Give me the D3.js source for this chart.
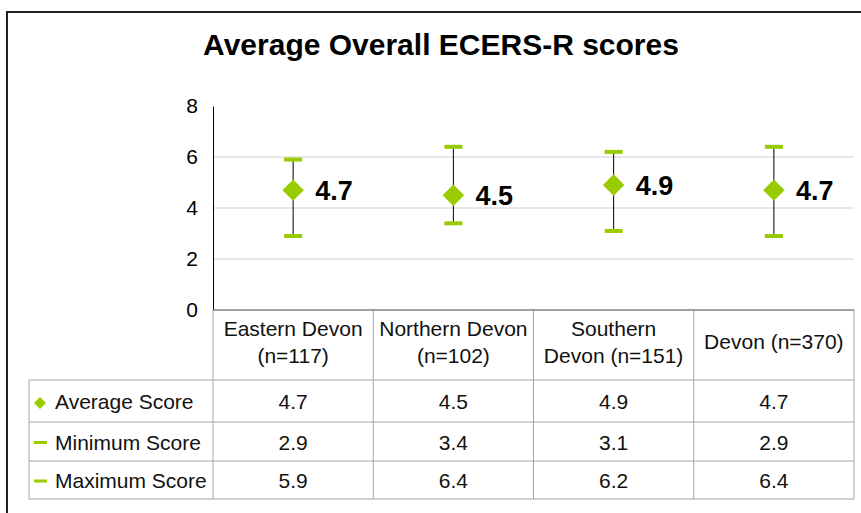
<!DOCTYPE html>
<html>
<head>
<meta charset="utf-8">
<script src="https://cdn.jsdelivr.net/npm/d3@7"></script>
<style>
  body { margin: 0; background: #fff; }
  text { font-family: "Liberation Sans", Arial, sans-serif; }
</style>
</head>
<body>
<div id="chart-area"></div>
<script>
// data
const categories = ["Eastern Devon (n=117)", "Northern Devon (n=102)", "Southern Devon (n=151)", "Devon (n=370)"]
const headerLines = [["Eastern Devon", "(n=117)"], ["Northern Devon", "(n=102)"], ["Southern", "Devon (n=151)"], ["Devon (n=370)"]]
const averageScore = [4.7, 4.5, 4.9, 4.7]
const minimumScore = [2.9, 3.4, 3.1, 2.9]
const maximumScore = [5.9, 6.4, 6.2, 6.4]
const yTicks = [0, 2, 4, 6, 8]
const rowNames = ["Average Score", "Minimum Score", "Maximum Score"]

const GREEN = "#99cc00"
const PLOT = { LEFT: 213, RIGHT: 854, TOP: 106, BOTTOM: 310 }
const ROWS = [310, 380, 422, 461, 499]
const TABLE_LEFT = 29

const svg = d3.select("#chart-area").append("svg")
    .attr("width", 861)
    .attr("height", 513)

// outer frame
svg.append("rect")
    .attr("x", 7).attr("y", 12)
    .attr("width", 900).attr("height", 600)
    .attr("fill", "none")
    .attr("stroke", "#222")
    .attr("stroke-width", 2)

svg.append("text")
    .attr("x", 441).attr("y", 55)
    .attr("text-anchor", "middle")
    .attr("font-size", "30px")
    .attr("font-weight", "bold")
    .text("Average Overall ECERS-R scores")

const x = d3.scaleBand()
    .domain(categories)
    .range([PLOT.LEFT, PLOT.RIGHT])

const y = d3.scaleLinear()
    .domain([0, 8])
    .range([PLOT.BOTTOM, PLOT.TOP])

// gridlines
svg.append("g")
    .selectAll("line")
    .data(yTicks.filter(d => d > 0 && d < 8))
    .enter().append("line")
        .attr("x1", PLOT.LEFT).attr("x2", PLOT.RIGHT)
        .attr("y1", d => y(d)).attr("y2", d => y(d))
        .attr("stroke", "#d0d0d0")

// y axis
const yAxisCall = d3.axisLeft(y)
    .tickValues(yTicks)
    .tickSize(0)
    .tickPadding(15)
const yAxis = svg.append("g")
    .attr("class", "y axis")
    .attr("transform", `translate(${PLOT.LEFT}, 0)`)
    .call(yAxisCall)
yAxis.select(".domain").attr("stroke", "#000")
yAxis.selectAll("text")
    .attr("font-size", "21px")
    .attr("font-family", "Liberation Sans, Arial, sans-serif")
    .attr("fill", "#000")

// table grid
const tbl = svg.append("g").attr("stroke", "#a6a6a6").attr("fill", "none")
ROWS.slice(1).forEach(r => {
    tbl.append("line")
        .attr("x1", TABLE_LEFT).attr("x2", PLOT.RIGHT)
        .attr("y1", r).attr("y2", r)
})
tbl.append("line")
    .attr("x1", TABLE_LEFT).attr("x2", TABLE_LEFT)
    .attr("y1", ROWS[1]).attr("y2", ROWS[4])
tbl.selectAll(".col")
    .data(categories)
    .enter().append("line")
        .attr("x1", d => x(d) + x.bandwidth()).attr("x2", d => x(d) + x.bandwidth())
        .attr("y1", ROWS[0]).attr("y2", ROWS[4])
tbl.append("line")
    .attr("x1", PLOT.LEFT).attr("x2", PLOT.LEFT)
    .attr("y1", ROWS[0]).attr("y2", ROWS[4])

// x axis line
svg.append("line")
    .attr("x1", PLOT.LEFT).attr("x2", PLOT.RIGHT)
    .attr("y1", PLOT.BOTTOM).attr("y2", PLOT.BOTTOM)
    .attr("stroke", "#808080")
    .attr("stroke-width", 1.5)

// error bars
const cx = d => x(d) + x.bandwidth() / 2
const marks = svg.append("g")
categories.forEach((c, i) => {
    marks.append("line")
        .attr("x1", cx(c)).attr("x2", cx(c))
        .attr("y1", y(minimumScore[i])).attr("y2", y(maximumScore[i]))
        .attr("stroke", "#000")
    ;[minimumScore[i], maximumScore[i]].forEach(v => {
        marks.append("line")
            .attr("x1", cx(c) - 9).attr("x2", cx(c) + 9)
            .attr("y1", y(v)).attr("y2", y(v))
            .attr("stroke", GREEN)
            .attr("stroke-width", 4)
    })
    marks.append("path")
        .attr("d", d3.symbol(d3.symbolSquare, 230)())
        .attr("transform", `translate(${cx(c)}, ${y(averageScore[i])}) rotate(45)`)
        .attr("fill", GREEN)
    marks.append("text")
        .attr("x", cx(c) + 22)
        .attr("y", y(averageScore[i]) + 10)
        .attr("font-size", "27px")
        .attr("font-weight", "bold")
        .text(averageScore[i].toFixed(1))
})

// header cells
categories.forEach((c, i) => {
    const lines = headerLines[i]
    const base = lines.length === 1 ? 349 : 336
    lines.forEach((t, j) => {
        svg.append("text")
            .attr("x", cx(c))
            .attr("y", base + j * 27)
            .attr("text-anchor", "middle")
            .attr("font-size", "21px")
            .attr("fill", "#111")
            .text(t)
    })
})

// data rows
const rowData = [averageScore, minimumScore, maximumScore]
rowNames.forEach((name, r) => {
    const mid = (ROWS[r + 1] + ROWS[r + 2]) / 2
    if (r === 0) {
        svg.append("path")
            .attr("d", d3.symbol(d3.symbolSquare, 72)())
            .attr("transform", `translate(40, ${mid + 2}) rotate(45)`)
            .attr("fill", GREEN)
    } else {
        svg.append("line")
            .attr("x1", 34).attr("x2", 47)
            .attr("y1", mid + 1).attr("y2", mid + 1)
            .attr("stroke", GREEN)
            .attr("stroke-width", 3)
    }
    svg.append("text")
        .attr("x", 55).attr("y", mid + 8)
        .attr("font-size", "21px")
        .attr("fill", "#111")
        .text(name)
    categories.forEach((c, i) => {
        svg.append("text")
            .attr("x", cx(c)).attr("y", mid + 8)
            .attr("text-anchor", "middle")
            .attr("font-size", "21px")
            .attr("fill", "#111")
            .text(rowData[r][i].toFixed(1))
    })
})
</script>
</body>
</html>
